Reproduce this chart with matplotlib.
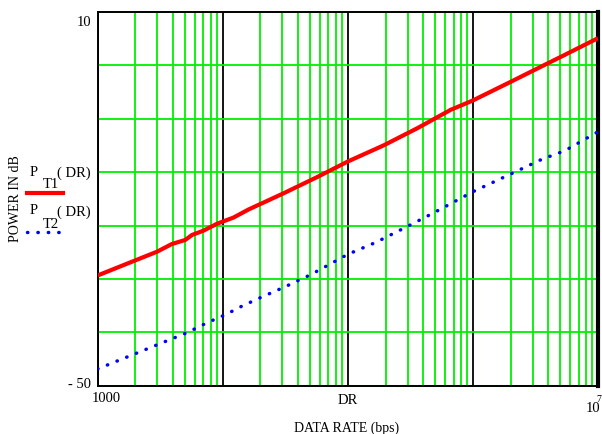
import numpy as np
from matplotlib import pyplot as plt
from matplotlib.lines import Line2D
from matplotlib.ticker import LogLocator, NullFormatter

dr_t1 = [1000, 1930, 2970, 3920, 5010, 5670, 7020, 8990, 12200, 16100, 30700,
         56900, 1.0e5, 1.94e5, 3.6e5, 6.65e5, 1.0e6, 2.01e6, 3.3e6, 5.07e6, 1.0e7]
p_t1 = [-32.3, -30.0, -28.5, -27.25, -26.6, -25.8, -25.1, -24.0, -23.0, -21.7, -19.1,
        -16.5, -14.0, -11.4, -8.65, -5.7, -4.2, -1.2, 0.96, 2.82, 5.8]

dr_t2 = [1000, 2090, 3570, 5170, 7470, 10800, 13000, 18800, 31600, 50200, 1.0e5,
         1.67e5, 3.08e5, 4.9e5, 1.0e6, 2.01e6, 3.6e6, 5.4e6, 9.66e6, 1.0e7]
p_t2 = [-47.3, -44.7, -42.8, -41.5, -39.9, -38.5, -37.6, -36.1, -34.1, -32.2, -28.9,
        -27.0, -24.3, -22.2, -18.85, -16.0, -13.6, -12.3, -9.4, -9.3]

W, H = 602, 434
GREEN = '#00f000'
SERIF = 'Liberation Serif'
DOTS = (0, (0.1, 2.9))


def fx(px):
    return px / W


def fy(py):
    return 1 - py / H


fig = plt.figure(figsize=(W / 100, H / 100), dpi=100)
ax = fig.add_axes([fx(97.7), fy(385.7), fx(598) - fx(97.7), fy(12) - fy(385.7)])

ax.plot(dr_t1, p_t1, color='#ff0000', lw=3.0, solid_capstyle='butt', zorder=5)
ax.plot(dr_t2, p_t2, color='#0000ff', lw=2.5, linestyle=DOTS,
        dash_capstyle='round', zorder=5)

ax.set_xscale('log')
ax.set_xlim(1e3, 1e7)
ax.set_ylim(-50, 10)
ax.xaxis.set_major_locator(LogLocator(base=10, numticks=10))
ax.xaxis.set_minor_locator(LogLocator(base=10, subs=np.arange(2, 10), numticks=20))
ax.xaxis.set_minor_formatter(NullFormatter())
ax.set_yticks(np.linspace(-50, 10, 8))
ax.set_xticklabels([])
ax.set_yticklabels([])
ax.tick_params(which='both', length=0)

ax.grid(axis='y', which='major', color=GREEN, lw=1.3, zorder=1)
ax.grid(axis='x', which='minor', color=GREEN, lw=1.3, zorder=1)
ax.grid(axis='x', which='major', color='black', lw=1.3, zorder=2)
ax.set_axisbelow(True)

for side in ['left', 'top', 'bottom']:
    ax.spines[side].set_linewidth(1.4)
ax.spines['right'].set_linewidth(3)

# axis texts, Mathcad style
fig.text(fx(91), fy(23), '10', ha='right', va='center', fontsize=10.5, family=SERIF)
fig.text(fx(91), fy(384), '- 50', ha='right', va='center', fontsize=10.5, family=SERIF)
fig.text(fx(106), fy(399), '1000', ha='center', va='center', fontsize=10.5, family=SERIF)
fig.text(fx(348), fy(400), 'DR', ha='center', va='center', fontsize=10.5, family=SERIF)
fig.text(fx(586), fy(409), '10', ha='left', va='center', fontsize=10.5, family=SERIF)
fig.text(fx(596), fy(399), '7', ha='left', va='center', fontsize=7, family=SERIF)
fig.text(fx(347), fy(428), 'DATA RATE (bps)', ha='center', va='center', fontsize=10,
         family=SERIF)
fig.text(fx(16), fy(199), 'POWER IN dB', ha='center', va='center', rotation=90,
         fontsize=10, family=SERIF)

# legend
for row, lab in [(0, 'T1'), (1, 'T2')]:
    dy = row * 39
    fig.text(fx(30), fy(172 + dy), 'P', ha='left', va='center', fontsize=10.5, family=SERIF)
    fig.text(fx(43), fy(185 + dy), lab, ha='left', va='center', fontsize=10.5, family=SERIF)
    fig.text(fx(57), fy(173 + dy), '( DR)', ha='left', va='center', fontsize=10.5,
             family=SERIF)
fig.add_artist(Line2D([fx(27), fx(63)], [fy(193), fy(193)], color='#ff0000', lw=3.0,
                      transform=fig.transFigure))
fig.add_artist(Line2D([fx(27), fx(60)], [fy(232), fy(232)], color='#0000ff', lw=2.5,
                      linestyle=DOTS, dash_capstyle='round',
                      transform=fig.transFigure))

fig.savefig('out.png', dpi=100)
